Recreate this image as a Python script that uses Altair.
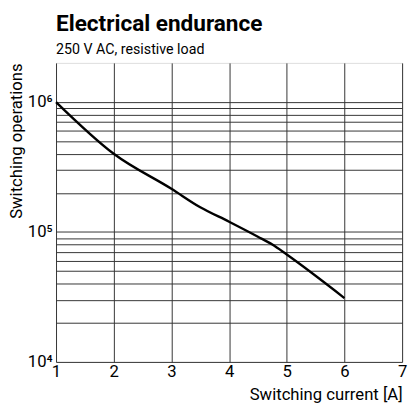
import altair as alt
import pandas as pd

current = [1, 2, 3, 3.5, 4, 4.5, 4.75, 5, 6]
operations = [1.0e6, 4.0e5, 2.15e5, 1.55e5, 1.2e5, 9.2e4, 8.0e4, 6.7e4, 3.1e4]
x_ticks = [1, 2, 3, 4, 5, 6, 7]
y_grid = [m * 10 ** e for e in (4, 5) for m in range(1, 10)] + [1e6]

df = pd.DataFrame({"current": current, "operations": operations})

FONT = "Roboto"

line = alt.Chart(df).mark_line(color="black", strokeWidth=2.4, interpolate="monotone").encode(
    x=alt.X("current:Q",
            scale=alt.Scale(domain=[1, 7], nice=False, zero=False),
            axis=alt.Axis(values=x_ticks, title="Switching current [A]", titleAnchor="end",
                          titleFontSize=17, titleFontWeight="normal", titleColor="black",
                          labelFontSize=17, labelColor="black", labelPadding=2,
                          titlePadding=7, ticks=False, domain=False,
                          grid=True, gridColor="#333333", gridWidth=1, gridOpacity=1,
                          labelFlush=False, labelFont=FONT, titleFont=FONT)),
    y=alt.Y("operations:Q",
            scale=alt.Scale(type="log", domain=[1e4, 2e6], nice=False),
            axis=alt.Axis(values=y_grid, title="Switching operations", titleAnchor="end",
                          titleFontSize=17, titleFontWeight="normal", titleColor="black",
                          labelFontSize=17, labelColor="black", labelPadding=4,
                          titlePadding=2, ticks=False, domain=False,
                          grid=True, gridColor="#333333", gridWidth=1, gridOpacity=1,
                          labelOverlap=False, labelFlush=False,
                          labelExpr="datum.value == 10000 ? '10⁴' : datum.value == 100000 ? '10⁵' : datum.value == 1000000 ? '10⁶' : ''",
                          labelFont=FONT, titleFont=FONT)),
)

chart = line.properties(
    width=353,
    height=305,
    title=alt.TitleParams(
        text="Electrical endurance",
        subtitle="250 V AC, resistive load",
        anchor="start",
        frame="group",
        font=FONT,
        fontSize=23,
        fontWeight="bold",
        color="black",
        subtitleFont=FONT,
        subtitleFontSize=14.5,
        subtitleColor="black",
        subtitlePadding=7,
        offset=7,
    ),
    autosize=alt.AutoSizeParams(type="none"),
    padding={"left": 49, "top": 52, "right": 6, "bottom": 44},
).configure_view(stroke="black", strokeWidth=1.5).configure(background="white")

chart.save("out.html", embed_options={"renderer": "svg", "actions": False})
